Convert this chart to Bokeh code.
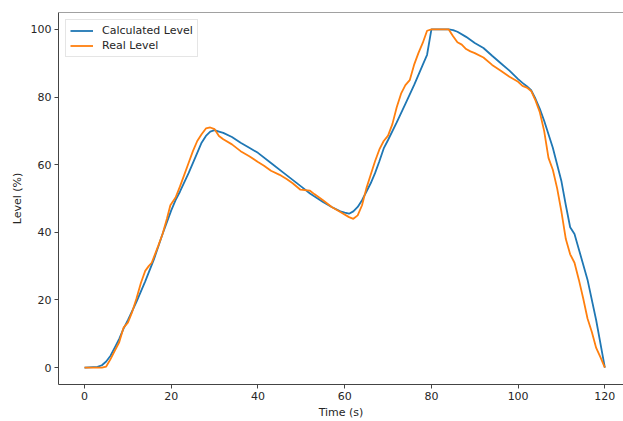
from bokeh.plotting import figure
from bokeh.models import Range1d, FixedTicker, Span, Legend, LegendItem
from bokeh.embed import file_html
from bokeh.resources import INLINE

# Calculated level
calc_t = [0, 3, 4, 5, 6, 7, 8, 9, 10, 12, 14, 16, 18, 20, 21, 22, 24, 26, 27, 28,
          29, 30, 31, 32, 34, 36, 38, 40, 43, 46, 48, 50, 52, 55, 57, 59, 60, 61,
          62, 63, 64, 65, 66, 67, 68, 69, 70, 72, 74, 76, 78, 79, 80, 82, 84, 85,
          86, 88, 90, 92, 94, 96, 98, 100, 101, 102, 103, 104, 105, 106, 108, 110,
          111, 112, 113, 114, 116, 118, 120]
calc_level = [0, 0.2, 0.7, 1.8, 3.5, 6, 8.5, 11.5, 14, 19.5, 25.5, 32, 39.5, 46.5,
              49.5, 52, 57.5, 63.5, 66.5, 68.5, 69.8, 70.2, 69.8, 69.4, 68.2, 66.5,
              65, 63.5, 60.5, 57.5, 55.5, 53.5, 51.5, 49, 47.5, 46.2, 45.8, 45.5,
              46.2, 47.5, 49.5, 52, 54.5, 57.5, 61, 64.8, 67.3, 72.5, 78, 83.5,
              89.5, 92.5, 100, 100, 100, 99.8, 99.3, 97.8, 96, 94.5, 92.2, 90, 87.8,
              85.3, 84.2, 83.2, 82, 79.5, 76.5, 73, 65, 55, 48, 41.5, 39.5, 35, 26,
              14, 0]

# Real level
real_t = [0, 2, 4, 5, 6, 7, 8, 9, 10, 11, 12, 13, 14, 14.8, 15.5, 17, 18, 19,
          19.8, 21, 22, 23, 24, 25, 26, 27, 28, 29, 30, 31, 32, 34, 36, 38, 40,
          41.4, 43, 45, 46.7, 48, 49.8, 52, 53, 55, 57, 59, 61, 62, 63, 64, 65,
          66, 67, 68, 69, 70, 71, 72, 73, 74, 75, 76, 77, 78, 79, 80, 84, 85, 86,
          87, 88, 89, 90, 92, 94, 96, 98, 100, 101, 102, 103, 104, 105, 106, 107,
          108, 109, 110, 111, 112, 113, 114, 115, 116, 117, 118, 119, 120]
real_level = [0, 0, 0, 0.3, 2.5, 5, 7.5, 11.8, 13.3, 16.5, 20.5, 25, 28.6, 30, 31,
              36, 39.5, 44, 48, 50.3, 53.5, 57, 60.5, 64, 67, 69, 70.7, 71, 70.5,
              68.5, 67.5, 66, 64, 62.5, 60.8, 59.7, 58.2, 57, 55.7, 54.5, 52.6,
              52.3, 51.3, 49.5, 47.5, 46, 44.5, 44, 45, 48, 53, 57, 61, 64.5, 67,
              68.6, 72, 77, 81, 83.5, 85, 89.5, 93, 96, 99.6, 100, 100, 98, 96.2,
              95.5, 94.2, 93.5, 93, 91.7, 89.5, 87.8, 86, 84.5, 83.3, 82.8, 81.8,
              79, 75.5, 70, 62, 58.5, 53, 46, 38, 33.5, 31, 26, 20.5, 14.5, 10.5,
              5.8, 3, 0]

x_ticks = [0, 20, 40, 60, 80, 100, 120]
y_ticks = [0, 20, 40, 60, 80, 100]

FONT = "DejaVu Sans"
BLUE = "#1f77b4"
ORANGE = "#ff7f0e"

x_range = Range1d(-6.0, 124.3)
y_range = Range1d(-5, 105)

p = figure(width=623, height=421, x_range=x_range, y_range=y_range,
           output_backend="svg", toolbar_location=None,
           min_border_left=58, min_border_right=0, min_border_top=12,
           min_border_bottom=37)
p.background_fill_color = "white"
p.border_fill_color = "white"
p.outline_line_color = None
p.xgrid.visible = False
p.ygrid.visible = False

r1 = p.line(calc_t, calc_level, line_color=BLUE, line_width=1.8)
r2 = p.line(real_t, real_level, line_color=ORANGE, line_width=1.8)

for ax in (p.xaxis[0], p.yaxis[0]):
    ax.axis_line_color = "#444444"
    ax.axis_line_width = 1
    ax.major_tick_line_color = "#444444"
    ax.major_tick_out = 4
    ax.major_tick_in = 0
    ax.minor_tick_line_color = None
    ax.major_label_text_font = FONT
    ax.major_label_text_font_size = "11px"
    ax.major_label_text_color = "#262626"
    ax.major_label_standoff = 3
    ax.axis_label_text_font = FONT
    ax.axis_label_text_font_size = "11px"
    ax.axis_label_text_font_style = "normal"
    ax.axis_label_text_color = "#262626"

p.xaxis.ticker = FixedTicker(ticks=x_ticks)
p.yaxis.ticker = FixedTicker(ticks=y_ticks)
p.xaxis.axis_label = "Time (s)"
p.yaxis.axis_label = "Level (%)"
p.xaxis.axis_label_standoff = 3
p.yaxis.axis_label_standoff = 4

top = Span(location=y_range.end, dimension="width", line_color="#444444",
           line_width=1)
p.add_layout(top)

legend = Legend(items=[LegendItem(label="Calculated Level", renderers=[r1]),
                       LegendItem(label="Real Level", renderers=[r2])],
                location="top_left")
legend.margin = 7
legend.padding = 4
legend.spacing = 2
legend.glyph_width = 23
legend.glyph_height = 13
legend.label_standoff = 9
legend.label_height = 13
legend.label_text_font = FONT
legend.label_text_font_size = "11px"
legend.label_text_color = "#262626"
legend.border_line_color = "#cccccc"
legend.border_line_width = 1
legend.background_fill_color = "white"
legend.background_fill_alpha = 0.8
p.add_layout(legend)

open("out.html", "w").write(file_html(p, INLINE))
